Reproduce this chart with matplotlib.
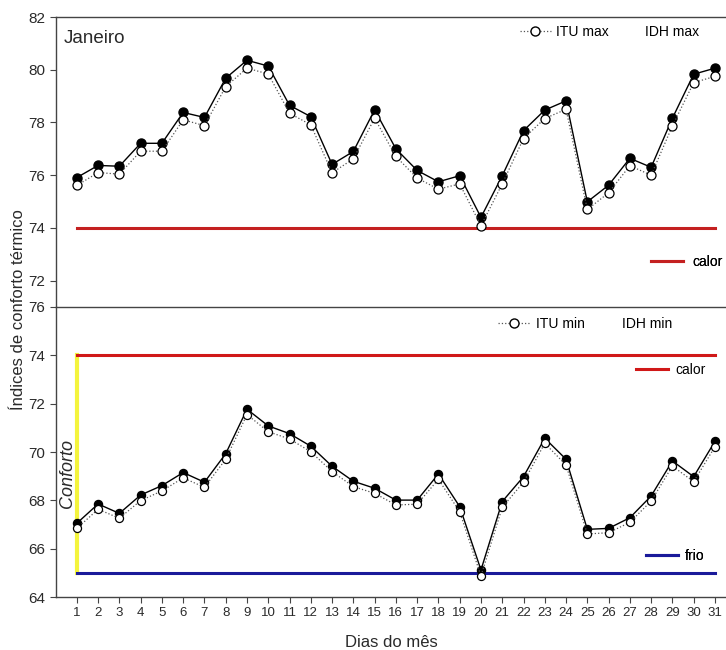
import matplotlib.pyplot as plt
import numpy as np
from matplotlib.lines import Line2D

plt.rcParams['font.family'] = ['Liberation Sans', 'DejaVu Sans']

dias = np.arange(1, 32)

# janeiro - indices maximos
idh_max = [75.91, 76.37, 76.34, 77.21, 77.21, 78.38, 78.19, 79.68, 80.36, 80.14,
           78.65, 78.22, 76.41, 76.90, 78.48, 77.00, 76.18, 75.75, 75.98, 74.40,
           75.98, 77.69, 78.47, 78.82, 74.99, 75.62, 76.64, 76.30, 78.16, 79.83, 80.06]
itu_max = [75.61, 76.10, 76.04, 76.91, 76.91, 78.10, 77.88, 79.36, 80.06, 79.84,
           78.35, 77.91, 76.09, 76.62, 78.16, 76.71, 75.89, 75.47, 75.67, 74.08,
           75.67, 77.39, 78.15, 78.50, 74.70, 75.33, 76.36, 76.00, 77.87, 79.51, 79.75]

# janeiro - indices minimos
idh_min = [67.05, 67.85, 67.46, 68.22, 68.61, 69.15, 68.75, 69.93, 71.77, 71.08,
           70.76, 70.24, 69.41, 68.79, 68.50, 68.01, 68.01, 69.09, 67.74, 65.12,
           67.95, 68.98, 70.57, 69.70, 66.80, 66.84, 67.28, 68.18, 69.63, 68.98, 70.44]
itu_min = [66.84, 67.63, 67.26, 67.99, 68.39, 68.93, 68.54, 69.70, 71.55, 70.84,
           70.54, 70.01, 69.19, 68.57, 68.29, 67.81, 67.84, 68.87, 67.53, 64.87,
           67.71, 68.75, 70.36, 69.46, 66.61, 66.66, 67.09, 67.97, 69.42, 68.77, 70.22]

limite_calor = 74
limite_frio = 65

fig = plt.figure(figsize=(7.26, 6.5), dpi=100)
ax1 = fig.add_axes([0.0771, 0.5277, 0.9229, 0.4461])
ax2 = fig.add_axes([0.0771, 0.0815, 0.9229, 0.4462])

cinza = '#444444'
texto = '#2a2a2a'
for ax in (ax1, ax2):
    ax.set_xlim(0.02, 31.52)
    ax.spines['right'].set_visible(False)
    for s in ('left', 'top', 'bottom'):
        ax.spines[s].set_color(cinza)
        ax.spines[s].set_linewidth(1.0)
    ax.tick_params(direction='out', length=4, width=0.8, color=cinza,
                   labelcolor=texto)
    ax.tick_params(axis='y', labelsize=11)
    ax.tick_params(axis='x', labelsize=9.5)


def legenda(ax, handles, labels, x, y, hl=2.2, pad=0.4, cs=0.0):
    leg = ax.legend(handles, labels, ncol=len(handles), frameon=False,
                    loc='center left', bbox_to_anchor=(x, y), fontsize=10,
                    borderpad=0, borderaxespad=0, handlelength=hl,
                    handletextpad=pad, columnspacing=cs)
    ax.add_artist(leg)
    return leg


h_itu = Line2D([], [], color='#555555', lw=0.9, ls=':', marker='o', ms=6.5,
               mfc='white', mec='black')
h_vazio = Line2D([], [], color='none')

# painel superior
ax1.set_ylim(71, 82)
ax1.set_yticks([72, 74, 76, 78, 80, 82])
ax1.set_xticks([])
ax1.spines['bottom'].set_visible(False)
ax1.plot([1, 31], [limite_calor] * 2, color='#c42020', lw=2.2, zorder=1)
ax1.plot(dias, idh_max, color='black', lw=1.0, marker='o', ms=6.5,
         mfc='black', mec='black', zorder=2)
ax1.plot(dias, itu_max, color='#555555', lw=0.9, ls=':', marker='o', ms=6.5,
         mfc='white', mec='black', mew=0.9, zorder=3)
ax1.text(0.012, 0.955, 'Janeiro', transform=ax1.transAxes, fontsize=13.5,
         va='top', ha='left', color=texto)

legenda(ax1, [h_itu, h_vazio], ['ITU max', 'IDH max'], 0.6925, 0.948)
legenda(ax1, [Line2D([], [], color='#c42020', lw=2.2)], ['calor'], 0.888, 0.155,
        hl=2.3, pad=0.7)

# painel inferior
ax2.set_ylim(64, 76)
ax2.set_yticks([64, 66, 68, 70, 72, 74, 76])
ax2.set_xticks(dias)
ax2.plot([1, 1], [limite_frio, limite_calor], color='#f4f43c', lw=3, zorder=1)
ax2.plot([1, 31], [limite_calor] * 2, color='#d01818', lw=2.2, zorder=1)
ax2.plot([1, 31], [limite_frio] * 2, color='#1a1a9a', lw=2.2, zorder=1)
ax2.plot(dias, idh_min, color='black', lw=1.0, marker='o', ms=5.8,
         mfc='black', mec='black', zorder=2)
ax2.plot(dias, itu_min, color='#555555', lw=0.9, ls=':', marker='o', ms=5.8,
         mfc='white', mec='black', mew=0.9, zorder=3)
ax2.text(0.58, 69.13, 'Conforto', rotation=90, fontsize=13, style='italic',
         ha='center', va='center', color=texto)

legenda(ax2, [h_itu, h_vazio], ['ITU min', 'IDH min'], 0.660, 0.941, hl=2.3)
legenda(ax2, [Line2D([], [], color='#d01818', lw=2.2)], ['calor'], 0.866, 0.783,
        hl=2.3, pad=0.5)
legenda(ax2, [Line2D([], [], color='#1a1a9a', lw=2.2)], ['frio'], 0.881, 0.141,
        hl=2.3, pad=0.5)

ax2.set_xlabel('Dias do mês', fontsize=12, color=texto, labelpad=11)
fig.text(0.025, 0.523, 'Índices de conforto térmico', rotation=90, fontsize=12,
         ha='center', va='center', color=texto)

fig.savefig('out.png', dpi=100)
